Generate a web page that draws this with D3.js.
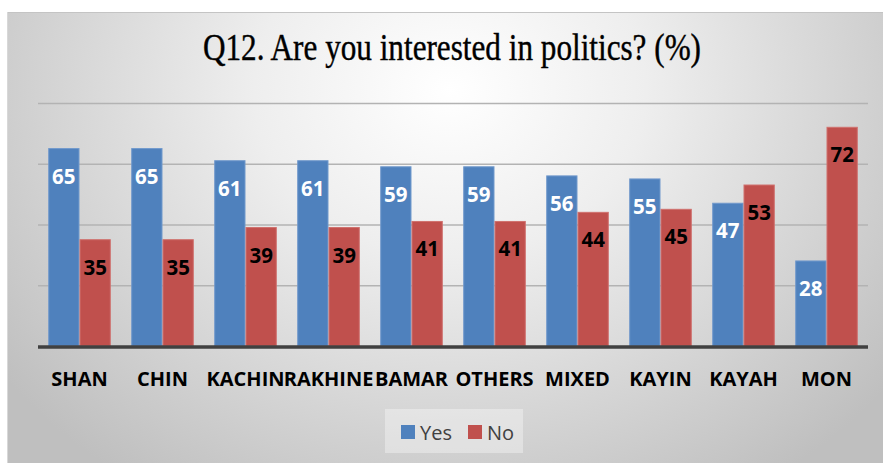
<!DOCTYPE html>
<html>
<head>
<meta charset="utf-8">
<script src="https://cdn.jsdelivr.net/npm/d3@7"></script>
<style>
  html, body { margin: 0; padding: 0; background: #ffffff; }
  svg { display: block; }
</style>
</head>
<body>
<svg id="chart" width="883" height="463"></svg>
<script>
// Survey results by group
const categories = ["SHAN", "CHIN", "KACHIN", "RAKHINE", "BAMAR", "OTHERS", "MIXED", "KAYIN", "KAYAH", "MON"];
const yesValues = [65, 65, 61, 61, 59, 59, 56, 55, 47, 28];
const noValues  = [35, 35, 39, 39, 41, 41, 44, 45, 53, 72];
const seriesNames = ["Yes", "No"];
const gridTicks = [20, 40, 60, 80];
const titleText = "Q12. Are you interested in politics? (%)";

const colors = { Yes: "#4f81bd", No: "#c0504d" };
const edges  = { Yes: "#7199cc", No: "#d0716e" };
const labelColors = { Yes: "#ffffff", No: "#000000" };

const svg = d3.select("#chart");
const W = 883, H = 463;

// Chart area background: soft radial gradient
const defs = svg.append("defs");
const grad = defs.append("radialGradient")
  .attr("id", "bg")
  .attr("gradientUnits", "userSpaceOnUse")
  .attr("cx", 450).attr("cy", 90).attr("r", 560)
  .attr("gradientTransform", "translate(450,90) scale(1,0.85) translate(-450,-90)");
grad.append("stop").attr("offset", "0%").attr("stop-color", "#ffffff");
grad.append("stop").attr("offset", "35%").attr("stop-color", "#eeeeee");
grad.append("stop").attr("offset", "100%").attr("stop-color", "#bfbfbf");

svg.append("rect")
  .attr("x", 7).attr("y", 12)
  .attr("width", W - 7).attr("height", H - 12)
  .attr("fill", "url(#bg)");
svg.append("line")
  .attr("x1", 7).attr("x2", W).attr("y1", 12.5).attr("y2", 12.5)
  .attr("stroke", "#c4c4c4").attr("stroke-width", 1);
svg.append("line")
  .attr("x1", 7.5).attr("x2", 7.5).attr("y1", 12).attr("y2", H)
  .attr("stroke", "#d8d8d8").attr("stroke-width", 1);

// Scales
const x0 = d3.scaleBand()
  .domain(categories)
  .range([38, 868])
  .paddingInner(0.246)
  .paddingOuter(0.123);
const x1 = d3.scaleBand()
  .domain(seriesNames)
  .range([0, x0.bandwidth()]);
const y = d3.scaleLinear().domain([0, 80]).range([346, 103]);

// Gridlines
const grid = svg.append("g")
  .attr("transform", "translate(38,0)")
  .call(d3.axisLeft(y).tickValues(gridTicks).tickSize(-830).tickFormat(""));
grid.select(".domain").remove();
grid.selectAll(".tick line").attr("stroke", "#b3b3b3").attr("stroke-width", 1.5);

// Bars
const rows = categories.map((c, i) => ({ cat: c, Yes: yesValues[i], No: noValues[i] }));
const groups = svg.append("g").selectAll("g")
  .data(rows)
  .join("g")
  .attr("transform", d => `translate(${x0(d.cat)},0)`);

const cells = groups.selectAll("g")
  .data(d => seriesNames.map(k => ({ key: k, value: d[k] })))
  .join("g");

cells.append("rect")
  .attr("x", d => x1(d.key) + 0.5)
  .attr("y", d => y(d.value))
  .attr("width", x1.bandwidth() - 1)
  .attr("height", d => y(0) - y(d.value))
  .attr("fill", d => colors[d.key])
  .attr("stroke", d => edges[d.key])
  .attr("stroke-width", 1);

cells.append("text")
  .attr("x", d => x1(d.key) + x1.bandwidth() / 2)
  .attr("y", d => y(d.value) + 35)
  .attr("text-anchor", "middle")
  .attr("font-family", "'Open Sans', sans-serif")
  .attr("font-weight", 700)
  .attr("font-size", 20.5)
  .attr("fill", d => labelColors[d.key])
  .text(d => d.value);

// Baseline axis
const xAxis = svg.append("g")
  .attr("transform", `translate(0,${y(0)})`)
  .call(d3.axisBottom(x0).tickSize(0).tickPadding(0));
xAxis.select(".domain").remove();
xAxis.selectAll(".tick text")
  .attr("y", 40)
  .attr("dy", 0)
  .attr("font-family", "'Open Sans', sans-serif")
  .attr("font-weight", 700)
  .attr("font-size", 20)
  .attr("fill", "#000000");
svg.append("line")
  .attr("x1", 38).attr("x2", 868)
  .attr("y1", y(0) + 1).attr("y2", y(0) + 1)
  .attr("stroke", "#404040").attr("stroke-width", 3.5);

// Title
svg.append("text")
  .attr("x", 452).attr("y", 60)
  .attr("text-anchor", "middle")
  .attr("font-family", "'Liberation Serif', 'DejaVu Serif', serif")
  .attr("font-size", 37)
  .attr("textLength", 498)
  .attr("lengthAdjust", "spacingAndGlyphs")
  .attr("stroke", "#000000").attr("stroke-width", 0.4)
  .attr("fill", "#000000")
  .text(titleText);

// Legend
const legend = svg.append("g");
legend.append("rect")
  .attr("x", 385).attr("y", 409)
  .attr("width", 138).attr("height", 44)
  .attr("fill", "#ffffff").attr("fill-opacity", 0.35);
const legendX = { Yes: 401, No: 468 };
const items = legend.selectAll("g.item")
  .data(seriesNames)
  .join("g")
  .attr("class", "item")
  .attr("transform", d => `translate(${legendX[d]},425)`);
items.append("rect")
  .attr("width", 14).attr("height", 14)
  .attr("fill", d => colors[d]);
items.append("text")
  .attr("x", 19).attr("y", 15)
  .attr("font-family", "'Open Sans', sans-serif")
  .attr("font-size", 20)
  .attr("fill", "#404040")
  .text(d => d);
</script>
</body>
</html>
